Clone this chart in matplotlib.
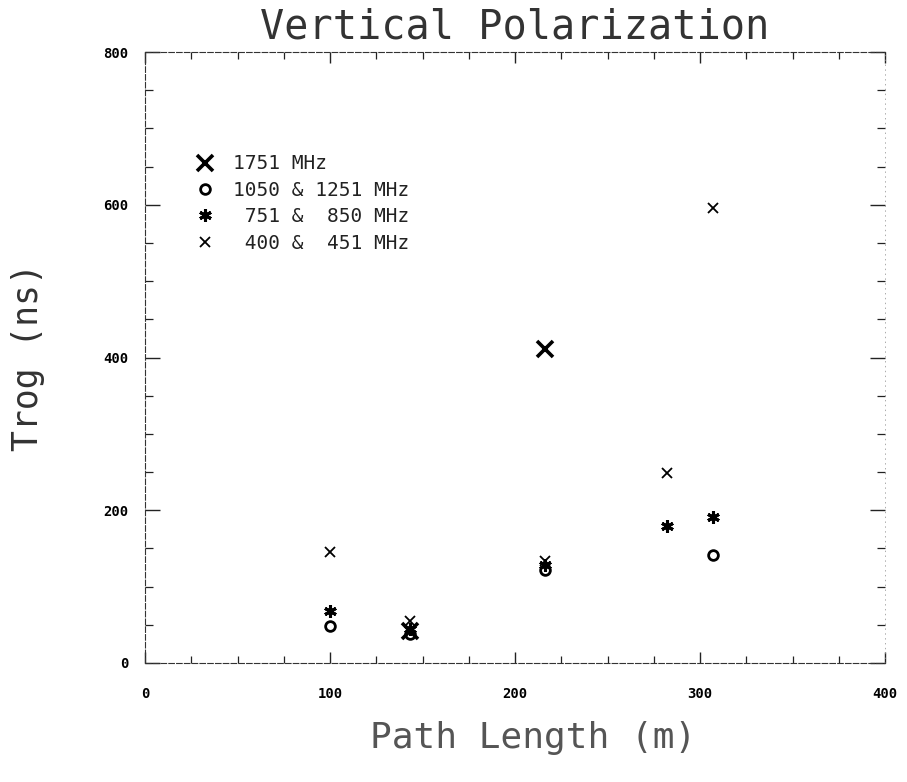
import matplotlib
matplotlib.use("Agg")
import matplotlib.pyplot as plt
from matplotlib.ticker import MultipleLocator

# ---- data ----
x_ticks = [0, 100, 200, 300, 400]
x_tick_labels = ["0", "100", "200", "300", "400"]
y_ticks = [0, 200, 400, 600, 800]
y_tick_labels = ["0", "200", "400", "600", "800"]

f1751_x = [143, 216]
f1751_y = [42, 411]

f1050_x = [100, 143, 216, 307]
f1050_y = [48, 38, 122, 141]

f751_x = [100, 143, 216, 282, 307]
f751_y = [68, 45, 128, 179, 191]

f400_x = [100, 143, 216, 282, 307]
f400_y = [145, 55, 133, 249, 596]

labels = ["1751 MHz", "1050 & 1251 MHz", " 751 &  850 MHz", " 400 &  451 MHz"]

mono = "DejaVu Sans Mono"

fig = plt.figure(figsize=(9.07, 7.82), dpi=100)
ax = fig.add_axes([145/907, 1-663/782, (885-145)/907, (663-52)/782])

ax.plot(f1751_x, f1751_y, linestyle="none", marker="x", ms=11, mew=2.6,
        color="black", label=labels[0])
ax.plot(f1050_x, f1050_y, linestyle="none", marker="o", ms=7, mew=2.0,
        mfc="none", mec="black", label=labels[1])
ax.plot(f751_x, f751_y, linestyle="none", marker=(6, 2, 0), ms=9, mew=2.2,
        color="black", label=labels[2])
ax.plot(f400_x, f400_y, linestyle="none", marker="x", ms=7, mew=1.3,
        color="black", label=labels[3])

ax.set_xlim(0, 400)
ax.set_ylim(0, 800)
ax.set_xticks(x_ticks)
ax.set_xticklabels(x_tick_labels, family=mono, fontsize=10, fontweight="bold")
ax.set_yticks(y_ticks)
ax.set_yticklabels(y_tick_labels, family=mono, fontsize=10, fontweight="bold")
ax.xaxis.set_minor_locator(MultipleLocator(25))
ax.yaxis.set_minor_locator(MultipleLocator(50))

ax.tick_params(axis="both", which="both", direction="in", top=True, right=True,
               color="#222222")
ax.tick_params(axis="y", which="major", length=11, width=1.0, pad=12)
ax.tick_params(axis="y", which="minor", length=6, width=0.9)
ax.tick_params(axis="x", which="major", length=8, width=1.0, pad=17)
ax.tick_params(axis="x", which="minor", length=5, width=0.9)

for side in ["left", "top", "bottom"]:
    ax.spines[side].set_linewidth(0.8)
    ax.spines[side].set_linestyle((0, (5, 2)))
    ax.spines[side].set_color("#333333")
ax.spines["right"].set_linewidth(0.5)
ax.spines["right"].set_linestyle((0, (1, 6)))
ax.spines["right"].set_color("#888888")

ax.set_title("Vertical Polarization", family=mono, fontsize=29, color="#333333",
             pad=10)
ax.set_xlabel("Path Length (m)", family=mono, fontsize=26, color="#555555",
              labelpad=12)
ax.xaxis.set_label_coords(0.525, -0.095)
ax.set_ylabel("Trog (ns)", family=mono, fontsize=25, color="#333333",
              labelpad=42)

leg = ax.legend(loc="upper left", bbox_to_anchor=(0.058, 0.845), frameon=False,
                handlelength=1.0, handletextpad=0.9, labelspacing=0.38,
                prop={"family": mono, "size": 14}, borderaxespad=0)
for t in leg.get_texts():
    t.set_color("#222222")

fig.savefig("out.png", dpi=100)
